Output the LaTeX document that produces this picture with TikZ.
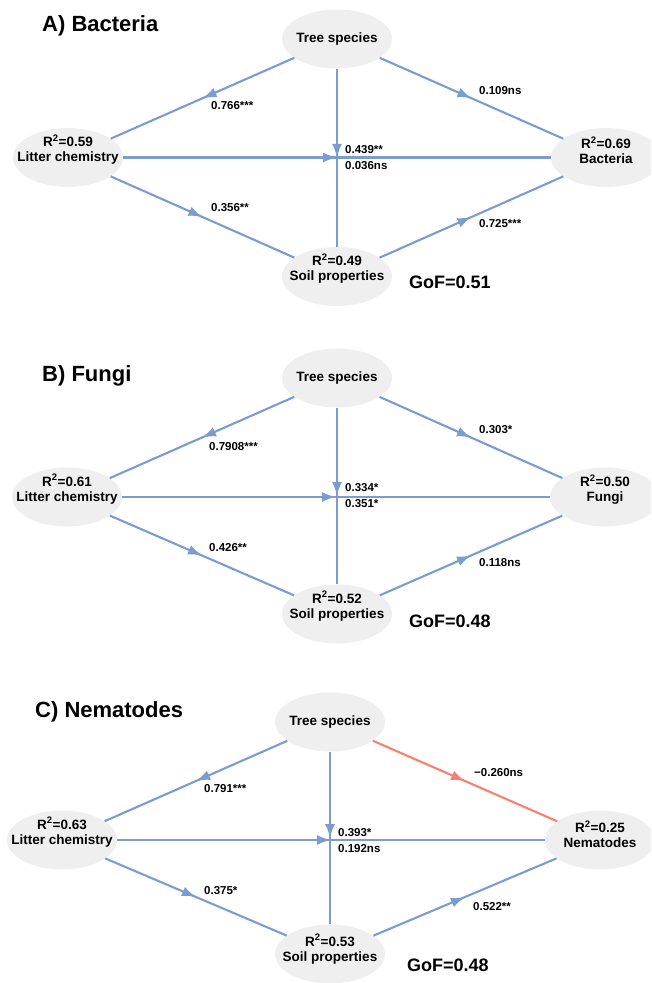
\documentclass[tikz,border=0pt]{standalone}
\usepackage{fontspec}
\setmainfont{Liberation Sans}
\usetikzlibrary{arrows.meta,decorations.markings,shapes.geometric}
\definecolor{edgeblue}{RGB}{122,156,208}
\definecolor{edgered}{RGB}{248,128,114}
\definecolor{nodegray}{RGB}{239,239,239}
\tikzset{
  var/.style={ellipse, fill=nodegray, minimum width=110pt, minimum height=59pt, inner sep=0pt},
  vartext/.style={align=center, font=\fontsize{13.5}{15}\selectfont\bfseries, inner sep=0pt},
  link/.style={line width=2.1pt, draw=#1, postaction={decorate},
    decoration={markings, mark=at position 0.5 with {\arrow[#1]{Latex[length=14pt,width=10pt]}}}},
  link/.default=edgeblue,
  coef/.style={anchor=west, inner sep=0pt, font=\fontsize{11.5}{13}\selectfont\bfseries},
  paneltitle/.style={anchor=west, inner sep=0pt, font=\fontsize{22}{24}\selectfont\bfseries},
  gof/.style={anchor=west, inner sep=0pt, font=\fontsize{18}{20}\selectfont\bfseries}
}
\begin{document}
\begin{tikzpicture}[x=1pt,y=-1pt]
\useasboundingbox (0,0) rectangle (651,983);
\clip (0,0) rectangle (651,983);

% ---------------- Panel A ----------------
\node[paneltitle] (Atitle) at (42,26) {A) Bacteria};
\node[var] (At) at (337,39) {};
\node[var] (Al) at (68,157.5) {};
\node[var] (Ab) at (606,157.5) {};
\node[var] (As) at (337,276.5) {};
\node[vartext] (AtT) at (At.center) {Tree species};
\node[vartext] (AlT) at ([yshift=8pt]Al.center) {R\textsuperscript{2}=0.59\\Litter chemistry};
\node[vartext] (AbT) at ([yshift=7pt]Ab.center) {R\textsuperscript{2}=0.69\\Bacteria};
\node[vartext] (AsT) at ([yshift=8pt]As.center) {R\textsuperscript{2}=0.49\\Soil properties};
\draw[link] (At) -- (Al);
\draw[link] (At) -- (Ab);
\draw[link] (At) -- (As);
\draw[link] (Al) -- (Ab);
\draw[link] (Al) -- (As);
\draw[link] (As) -- (Ab);
\node[coef] (Ac1) at (211,106) {0.766***};
\node[coef] (Ac2) at (211,208) {0.356**};
\node[coef] (Ac3) at (345,150) {0.439**};
\node[coef] (Ac4) at (345,166) {0.036ns};
\node[coef] (Ac5) at (479,91) {0.109ns};
\node[coef] (Ac6) at (479,224) {0.725***};
\node[gof] (Agof) at (409,282) {GoF=0.51};

% ---------------- Panel B ----------------
\node[paneltitle] (Btitle) at (42,376) {B) Fungi};
\node[var] (Bt) at (337,378) {};
\node[var] (Bl) at (67,497) {};
\node[var] (Bf) at (605,497) {};
\node[var] (Bs) at (337,614) {};
\node[vartext] (BtT) at (Bt.center) {Tree species};
\node[vartext] (BlT) at ([yshift=8pt]Bl.center) {R\textsuperscript{2}=0.61\\Litter chemistry};
\node[vartext] (BfT) at ([yshift=7pt]Bf.center) {R\textsuperscript{2}=0.50\\Fungi};
\node[vartext] (BsT) at ([yshift=8pt]Bs.center) {R\textsuperscript{2}=0.52\\Soil properties};
\draw[link] (Bt) -- (Bl);
\draw[link] (Bt) -- (Bf);
\draw[link] (Bt) -- (Bs);
\draw[link] (Bl) -- (Bf);
\draw[link] (Bl) -- (Bs);
\draw[link] (Bs) -- (Bf);
\node[coef] (Bc1) at (209,447) {0.7908***};
\node[coef] (Bc2) at (209,548) {0.426**};
\node[coef] (Bc3) at (345,488) {0.334*};
\node[coef] (Bc4) at (345,504) {0.351*};
\node[coef] (Bc5) at (479,430) {0.303*};
\node[coef] (Bc6) at (479,563) {0.118ns};
\node[gof] (Bgof) at (409,621) {GoF=0.48};

% ---------------- Panel C ----------------
\node[paneltitle] (Ctitle) at (35,712) {C) Nematodes};
\node[var] (Ct) at (330,722) {};
\node[var] (Cl) at (62,840) {};
\node[var] (Cn) at (600,840) {};
\node[var] (Cs) at (330,954) {};
\node[vartext] (CtT) at (Ct.center) {Tree species};
\node[vartext] (ClT) at ([yshift=8pt]Cl.center) {R\textsuperscript{2}=0.63\\Litter chemistry};
\node[vartext] (CnT) at ([yshift=6pt]Cn.center) {R\textsuperscript{2}=0.25\\Nematodes};
\node[vartext] (CsT) at ([yshift=5pt]Cs.center) {R\textsuperscript{2}=0.53\\Soil properties};
\draw[link] (Ct) -- (Cl);
\draw[link=edgered] (Ct) -- (Cn);
\draw[link] (Ct) -- (Cs);
\draw[link] (Cl) -- (Cn);
\draw[link] (Cl) -- (Cs);
\draw[link] (Cs) -- (Cn);
\node[coef] (Cc1) at (204,789) {0.791***};
\node[coef] (Cc2) at (204,891) {0.375*};
\node[coef] (Cc3) at (338,833) {0.393*};
\node[coef] (Cc4) at (338,849) {0.192ns};
\node[coef] (Cc5) at (474,773) {−0.260ns};
\node[coef] (Cc6) at (473,907) {0.522**};
\node[gof] (Cgof) at (407,965) {GoF=0.48};
\end{tikzpicture}
\end{document}
